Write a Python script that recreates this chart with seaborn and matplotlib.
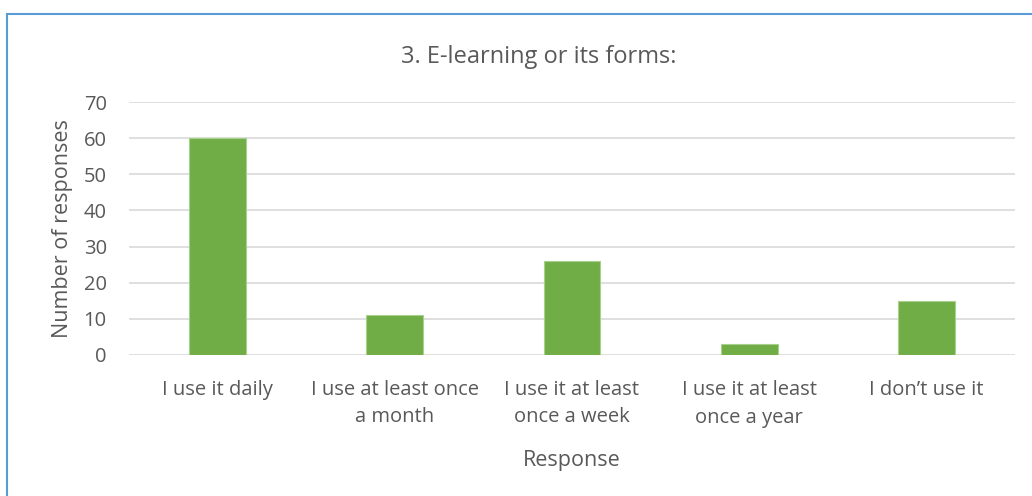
import matplotlib.pyplot as plt
import seaborn as sns
import pandas as pd
from matplotlib.patches import Rectangle

responses = ["I use it daily", "I use at least once\na month", "I use it at least\nonce a week",
             "I use it at least\nonce a year", "I don\u2019t use it"]
counts = [60, 11, 26, 3, 15]
yticks = [0, 10, 20, 30, 40, 50, 60, 70]

GREEN = "#70AD47"
GREY = "#595959"

sns.set_style("white")
plt.rcParams["font.family"] = ["Open Sans", "DejaVu Sans"]

df = pd.DataFrame({"Response": responses, "Count": counts})

fig = plt.figure(figsize=(10.32, 4.96), dpi=100)
ax = fig.add_axes([129 / 1032, 1 - 355 / 496, (1015 - 129) / 1032, (355 - 102) / 496])

sns.barplot(data=df, x="Response", y="Count", color=GREEN, width=0.32, saturation=1,
            edgecolor="#A9D18E", linewidth=0.8, ax=ax, zorder=3)

ax.set_ylim(0, 70)
ax.set_yticks(yticks)
ax.set_xlim(-0.5, 4.5)
ax.grid(axis="y", color="#D9D9D9", linewidth=1.2, zorder=0)
sns.despine(ax=ax, left=True, bottom=True, top=True, right=True)
ax.tick_params(axis="both", length=0, labelsize=14.5, labelcolor=GREY)
ax.tick_params(axis="x", pad=18)
ax.tick_params(axis="y", pad=16)
for lab in ax.get_xticklabels():
    lab.set_linespacing(1.5)
ax.set_xlabel("Response", fontsize=15.5, color=GREY, labelpad=16)
ax.set_ylabel("Number of responses", fontsize=15.5, color=GREY, labelpad=8)
fig.text(539 / 1032, 1 - 57 / 496, "3. E-learning or its forms:", ha="center", va="center",
         fontsize=17, color=GREY)

fig.patches.append(Rectangle((7 / 1032, -0.1), 1.1, 1.1 - 14 / 496, transform=fig.transFigure,
                             fill=False, edgecolor="#5B9BD5", linewidth=1.5))

fig.savefig("out.png", dpi=100, facecolor="w")
